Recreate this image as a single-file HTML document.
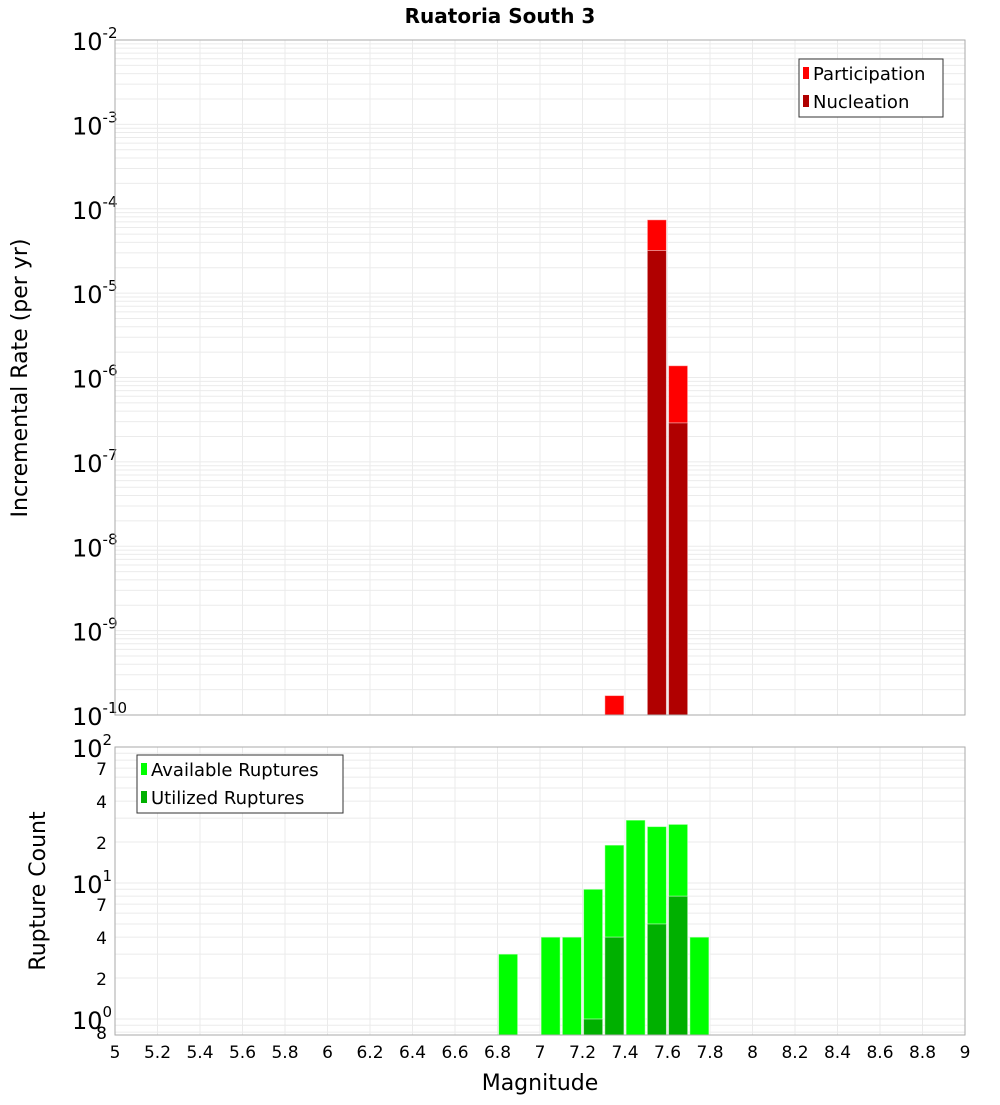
<!DOCTYPE html>
<html><head><meta charset="utf-8"><style>
body{margin:0;background:#fff;font-family:"Liberation Sans","DejaVu Sans",sans-serif}
svg text{font-family:"DejaVu Sans","Liberation Sans",sans-serif}
</style></head><body>
<svg id="c" width="1000" height="1100" xmlns="http://www.w3.org/2000/svg">
<text x="500" y="23" text-anchor="middle" font-size="20" font-weight="bold">Ruatoria South 3</text>
<g id="grid"></g><g id="bars"></g><g id="axes"></g>
<rect x="115" y="40" width="850" height="675" fill="none" stroke="#aaa"/>
<rect x="115" y="747" width="850" height="288" fill="none" stroke="#aaa"/>
<text transform="translate(27,378) rotate(-90)" text-anchor="middle" font-size="22">Incremental Rate (per yr)</text>
<text transform="translate(45,891) rotate(-90)" text-anchor="middle" font-size="22">Rupture Count</text>
<text x="540" y="1090" text-anchor="middle" font-size="22">Magnitude</text>
<g>
<rect x="799" y="59" width="144" height="58" fill="#fff" stroke="#333"/>
<rect x="803" y="67" width="6" height="12" fill="#ff0000"/>
<text x="813" y="80" font-size="18">Participation</text>
<rect x="803" y="95" width="6" height="12" fill="#b00000"/>
<text x="813" y="108" font-size="18">Nucleation</text>
</g>
<g>
<rect x="137" y="755" width="206" height="58" fill="#fff" stroke="#333"/>
<rect x="141" y="763" width="6" height="12" fill="#00ff00"/>
<text x="151" y="776" font-size="18">Available Ruptures</text>
<rect x="141" y="791" width="6" height="12" fill="#00b000"/>
<text x="151" y="804" font-size="18">Utilized Ruptures</text>
</g>
</svg>
<script>
const mags=[6.85,7.05,7.15,7.25,7.35,7.45,7.55,7.65,7.75];
const participation=[0,0,0,0,1.7e-10,0,7.4e-5,1.38e-6,0];
const nucleation=[0,0,0,0,0,0,3.2e-5,2.9e-7,0];
const available=[3,4,4,9,19,29,26,27,4];
const utilized=[0,0,0,1,4,0,5,8,0];
const xTicks=["5","5.2","5.4","5.6","5.8","6","6.2","6.4","6.6","6.8","7","7.2","7.4","7.6","7.8","8","8.2","8.4","8.6","8.8","9"];
const topExps=[-2,-3,-4,-5,-6,-7,-8,-9,-10];
const botMinorLabels=[[70,"7"],[40,"4"],[20,"2"],[7,"7"],[4,"4"],[2,"2"],[0.8,"8"]];
const NS="http://www.w3.org/2000/svg";
const X=m=>115+(m-5)*212.5;
const YT=v=>40+(-2-Math.log10(v))*84.375;
const YB=v=>747+(2-Math.log10(v))*136;
function mk(p,t,a){const e=document.createElementNS(NS,t);for(const k in a)e.setAttribute(k,a[k]);document.getElementById(p).appendChild(e);return e;}
// grid
for(let d=-10;d<-2;d++)for(let k=1;k<10;k++){const y=YT(k*Math.pow(10,d));const l=mk('grid','line',{x1:115,x2:965,y1:y,y2:y,stroke:'#ebebeb'});

}
for(let d=-1;d<2;d++)for(let k=1;k<10;k++){const y=YB(k*Math.pow(10,d));if(y>1035||y<747)continue;const l=mk('grid','line',{x1:115,x2:965,y1:y,y2:y,stroke:'#ebebeb'});

}
xTicks.forEach(t=>{const x=X(+t);[[40,715],[747,1035]].forEach(r=>{const l=mk('grid','line',{x1:x,x2:x,y1:r[0],y2:r[1],stroke:'#ebebeb'});

});
const tx=mk('axes','text',{x:x,y:1058,'text-anchor':'middle','font-size':17});tx.textContent=t;

});
topExps.forEach(e=>{const y=YT(Math.pow(10,e));const t=mk('axes','text',{x:72,y:y+10,'font-size':24});


t.innerHTML='10<tspan dy="-12" font-size="15">'+e+'</tspan>';});
[[100,"2"],[10,"1"],[1,"0"]].forEach(p=>{const y=YB(p[0]);const t=mk('axes','text',{x:72,y:y+10,'font-size':24});


t.innerHTML='10<tspan dy="-12" font-size="15">'+p[1]+'</tspan>';});
botMinorLabels.forEach(p=>{const t=mk('axes','text',{x:107,y:YB(p[0])+7,'text-anchor':'end','font-size':17});t.textContent=p[1];

});
function bar(m,v,Y,base,fill,name){if(!v)return;const x0=X(m-0.045),x1=X(m+0.045);const y=Math.max(Y(v),0);const r=mk('bars','rect',{x:x0,y:y,width:x1-x0,height:Math.max(0,base-y),fill:fill,stroke:'#fff','stroke-opacity':0.5});

}
mags.forEach((m,i)=>{bar(m,participation[i],YT,715,'#ff0000','participation-bar');bar(m,nucleation[i],YT,715,'#b00000','nucleation-bar');
bar(m,available[i],YB,1035,'#00ff00','available-bar');bar(m,utilized[i],YB,1035,'#00b000','utilized-bar');});
</script>
</body></html>
